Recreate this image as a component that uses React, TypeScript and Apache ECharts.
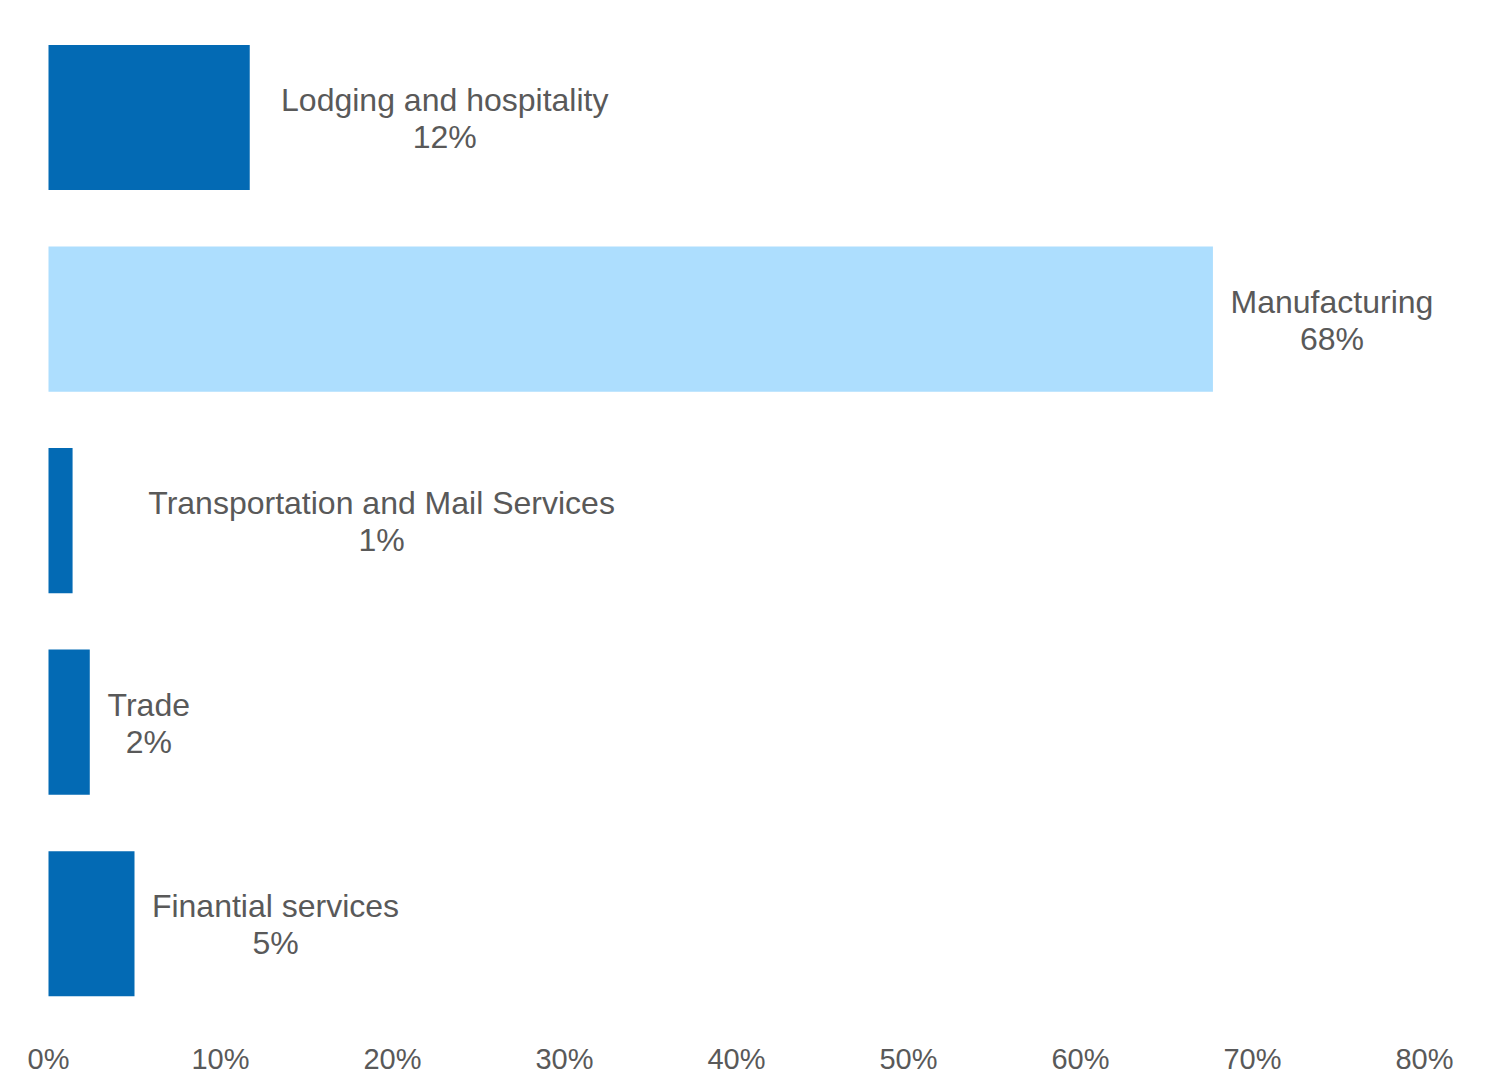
import React, { useEffect, useRef } from "react";
import * as echarts from "echarts";

// Share of each sector (%)
const categories = [
  "Lodging and hospitality",
  "Manufacturing",
  "Transportation and Mail Services",
  "Trade",
  "Finantial services",
];
const shares = [11.7, 67.7, 1.4, 2.4, 5.0];
const highlighted = ["Manufacturing"];

// Axis range (%)
const axisMin = 0;
const axisMax = 80;
const axisStep = 10;

// Horizontal distance from each bar's end to the centre of its label
const labelCenterOffsets = [195, 119, 309, 59, 141];

const DARK_BLUE = "#036AB4";
const LIGHT_BLUE = "#ADDEFE";
const TEXT_GREY = "#595959";
const FONT = "'Liberation Sans', Arial, sans-serif";

export default function App() {
  const ref = useRef<HTMLDivElement>(null);

  useEffect(() => {
    if (!ref.current) return;
    const chart = echarts.init(ref.current, undefined, { renderer: "svg" });

    const data = categories.map((name, i) => ({
      name,
      value: shares[i],
      itemStyle: {
        color: highlighted.includes(name) ? LIGHT_BLUE : DARK_BLUE,
      },
      label: {
        distance: labelCenterOffsets[i],
      },
    }));

    chart.setOption({
      animation: false,
      backgroundColor: "#ffffff",
      grid: {
        left: 48.5,
        right: 71.5,
        top: 16.75,
        bottom: 49.5,
        containLabel: false,
      },
      xAxis: {
        type: "value",
        min: axisMin,
        max: axisMax,
        interval: axisStep,
        axisLine: { show: false },
        axisTick: { show: false },
        splitLine: { show: false },
        axisLabel: {
          formatter: "{value}%",
          color: TEXT_GREY,
          fontFamily: FONT,
          fontSize: 29,
          margin: 20,
        },
      },
      yAxis: {
        type: "category",
        inverse: true,
        data: categories,
        axisLine: { show: false },
        axisTick: { show: false },
        axisLabel: { show: false },
        splitLine: { show: false },
      },
      series: [
        {
          type: "bar",
          data,
          barCategoryGap: "28%",
          label: {
            show: true,
            position: "right",
            align: "center",
            verticalAlign: "middle",
            offset: [0, 1],
            color: TEXT_GREY,
            fontFamily: FONT,
            fontSize: 32,
            lineHeight: 37,
            formatter: (p: any) => `${p.name}\n${Math.round(p.value)}%`,
          },
        },
      ],
    });

    return () => chart.dispose();
  }, []);

  return (
    <div
      ref={ref}
      style={{ position: "fixed", left: 0, top: 0, width: 1496, height: 1074 }}
    />
  );
}
